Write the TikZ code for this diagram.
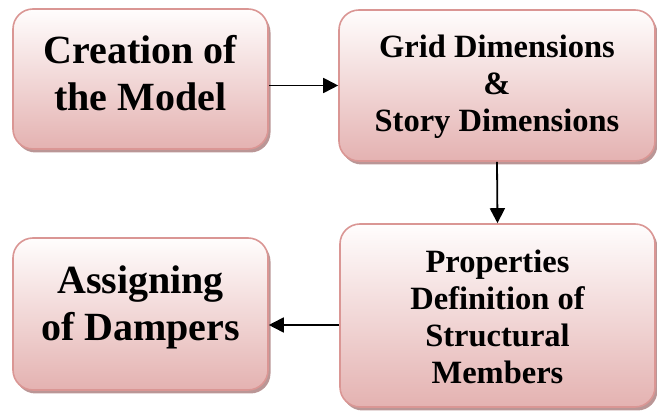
\documentclass[tikz,border=0pt]{standalone}
\usepackage{fontspec}
\setmainfont{Liberation Serif}
\usetikzlibrary{arrows.meta,shadows}

\definecolor{boxedge}{RGB}{218,150,148}
\definecolor{boxtop}{RGB}{255,253,253}
\definecolor{boxbottom}{RGB}{228,178,177}
\definecolor{boxshadow}{RGB}{186,150,150}

\tikzset{
  stage/.style={
    rectangle, rounded corners=20pt, draw=boxedge, line width=1.6pt,
    top color=boxtop, bottom color=boxbottom, inner sep=0pt,
    drop shadow={shadow xshift=2.5pt, shadow yshift=-3.5pt,
                 fill=boxshadow, opacity=1}
  },
  bigtext/.style={align=center, font=\fontsize{40}{47}\selectfont\bfseries, inner sep=0pt},
  midtext/.style={align=center, font=\fontsize{32.5}{37}\selectfont\bfseries, inner sep=0pt},
  flow/.style={line width=1.8pt, -{Triangle[length=15pt,width=15pt]}}
}

\begin{document}
\begin{tikzpicture}[x=1pt,y=1pt]
  \useasboundingbox (0,0) rectangle (657,412);

  % process boxes (y measured upward from the bottom edge)
  \node[stage, minimum width=255pt, minimum height=140pt] (b1) at (140.5,333) {};
  \node[stage, minimum width=316pt, minimum height=151pt] (b2) at (497,326.5) {};
  \node[stage, minimum width=255pt, minimum height=152pt] (b3) at (140.5,98) {};
  \node[stage, minimum width=315pt, minimum height=183pt] (b4) at (497.5,96.5) {};

  % box labels
  \node[bigtext] (t1) at ([yshift=6pt]b1.center) {Creation of\\the Model};
  \node[midtext] (t2) at ([yshift=-1pt]b2.center) {Grid Dimensions\\\&\\Story Dimensions};
  \node[bigtext] (t3) at ([yshift=7pt]b3.center) {Assigning\\of Dampers};
  \node[midtext] (t4) at ([yshift=-1pt]b4.center) {Properties\\Definition of\\Structural\\Members};

  % connectors
  \coordinate (r1) at (0,326.5);
  \coordinate (r3) at (0,87);
  \draw[flow] (b1.east |- r1) -- (b2.west |- r1);
  \draw[flow] (b2.south) -- (b4.north);
  \draw[flow] (b4.west |- r3) -- (b3.east |- r3);
\end{tikzpicture}
\end{document}
